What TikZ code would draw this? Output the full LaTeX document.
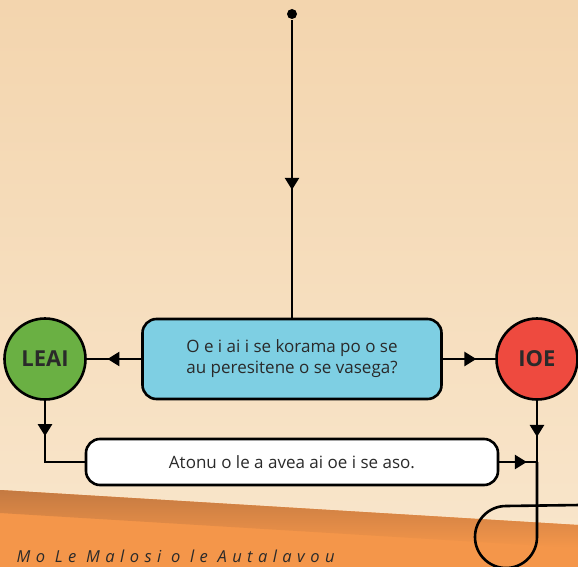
\documentclass[tikz,border=0pt]{standalone}
\usepackage{fontspec}
\setmainfont{Open Sans}
\newfontfamily\mottofont[LetterSpace=33]{Open Sans}
\usetikzlibrary{arrows.meta,decorations.markings}
\definecolor{paper}{HTML}{F3D5AE}
\definecolor{paperlight}{HTML}{F9E6CC}
\definecolor{bandorange}{HTML}{F4964A}
\definecolor{banddark}{HTML}{C47A42}
\definecolor{qblue}{HTML}{7ECFE3}
\definecolor{nogreen}{HTML}{6AB043}
\definecolor{yesred}{HTML}{EE4A3F}
\definecolor{ink}{HTML}{2A2A2A}
\tikzset{%
  >={Triangle[width=14pt,length=12pt]},
  % Specifications for style of nodes:
         base/.style = {rectangle, rounded corners=14pt, draw=black,
                        line width=2.6pt, text centered, text=ink,
                        font=\fontsize{17}{21}\selectfont},
     question/.style = {base, fill=qblue, minimum width=299pt, minimum height=80pt},
       answer/.style = {base, fill=white, minimum width=412pt, minimum height=46pt},
       choice/.style = {circle, draw=black, line width=2.6pt, minimum size=81pt,
                        inner sep=0pt, text=ink, font=\fontsize{22}{26}\selectfont\bfseries},
      nochoice/.style = {choice, fill=nogreen},
     yeschoice/.style = {choice, fill=yesred},
     midarrow/.style = {postaction={decorate},
                        decoration={markings, mark=at position #1 with {\arrow{>}}}}
}
\begin{document}
\begin{tikzpicture}[x=1pt, y=-1pt, line width=2.6pt, align=center]
  \useasboundingbox (0,0) rectangle (578,567);
  % paper and the orange band
  \shade[top color=paper, bottom color=paperlight] (0,0) rectangle (578,567);
  \fill[bandorange] (0,490) -- (578,525) -- (578,567) -- (0,567) -- cycle;
  \shade[top color=banddark, bottom color=bandorange] (0,490) -- (578,525) -- (578,548) -- (0,513) -- cycle;

  \node (start) [circle, fill=black, inner sep=0pt, minimum size=10pt] at (292,14) {};
  \node (ask)   [question] at (292,359) {O e i ai i se korama po o se\\au peresitene o se vasega?};
  \node (no)    [nochoice]  at (45,359)  {LEAI};
  \node (yes)   [yeschoice] at (537,359) {IOE};
  \node (maybe) [answer]   at (292,462) {Atonu o le a avea ai oe i se aso.};
  \coordinate (join) at (537,462);
  \coordinate (loop) at (537,537);
  \coordinate (edge) at (580,505);

    \draw[midarrow=0.57]  (start) -- (ask);
    \draw[midarrow=0.62]  (ask.west) -- (no.east);
    \draw[midarrow=0.64]  (ask.east) -- (yes.west);
    \draw[midarrow=0.35]  (no.south) |- (maybe.west);
    \draw[midarrow=0.59]  (yes.south) -- (join);
    \draw[midarrow=0.73]  (maybe.east) -- (join);
    \draw (join) -- (loop) arc[start angle=0, end angle=270, radius=31] -- (edge);

  \node (motto) [anchor=base west, text=ink, font=\mottofont\itshape\fontsize{16.5}{19}\selectfont]
    at (12,562) {Mo Le Malosi o le Autalavou};
\end{tikzpicture}
\end{document}
